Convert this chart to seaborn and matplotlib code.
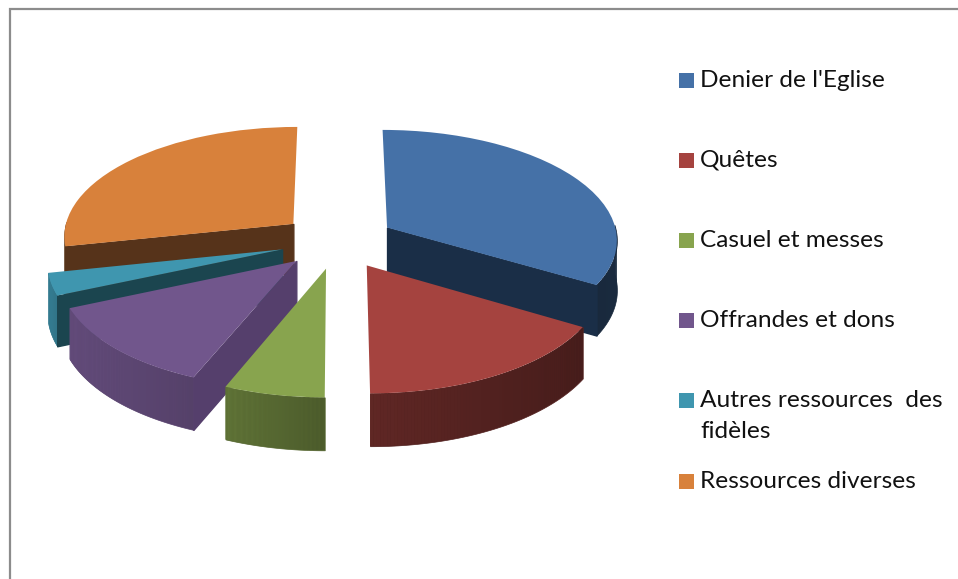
#!/usr/bin/env python
import numpy as np
import matplotlib
matplotlib.use("Agg")
import matplotlib.pyplot as plt
import seaborn as sns
from matplotlib.collections import PolyCollection
from matplotlib.colors import to_rgb
from matplotlib.patches import Rectangle
from matplotlib.transforms import Transform

# -----------------------------
# Data
# -----------------------------
labels = [
    "Denier de l'Eglise",
    "Quêtes",
    "Casuel et messes",
    "Offrandes et dons",
    "Autres ressources  des\nfidèles",
    "Ressources diverses",
]
shares = [33.5, 16.5, 6.2, 12.3, 3.2, 28.3]

colors = ["#4571A7", "#A5433F", "#88A44E", "#71568C", "#3F96AF", "#D8813B"]
cut_colors = ["#1A2E47", "#451C19", "#4C5C2A", "#553F6C", "#1B454F", "#56331A"]
wall_shades = [(0.36, 0.38), (0.58, 0.42), (0.71, 0.55), (0.88, 0.75), (0.85, 0.78), (0.40, 0.40)]
draw_order = [5, 0, 4, 3, 2, 1]

# -----------------------------
# Style
# -----------------------------
sns.set_theme(style="white")
plt.rcParams["font.family"] = ["Lato", "DejaVu Sans"]

CX, CY, R = 337.5, 241, 231
SQUASH, PERSP, DEPTH = 0.476, 0.10, 49.5


def project(x, y, z=0.0):
    s = 1 / (1 + PERSP * y)
    return CX + R * x * s, CY - R * SQUASH * y * s + DEPTH * z * s ** 0.5


class TopFace(Transform):
    input_dims = 2
    output_dims = 2

    def transform_non_affine(self, values):
        values = np.asarray(values)
        return np.column_stack(project(values[:, 0], values[:, 1]))


fig = plt.figure(figsize=(9.58, 5.79), dpi=100, facecolor="white")
ax = fig.add_axes([0, 0, 1, 1])

# -----------------------------
# Exploded pie, top faces
# -----------------------------
wedges, _ = ax.pie(
    shares,
    colors=colors,
    startangle=90,
    counterclock=False,
    explode=[0.25] * len(shares),
    wedgeprops={"linewidth": 0},
)
ax.set_aspect("auto")
ax.set_xlim(0, 958)
ax.set_ylim(579, 0)
ax.axis("off")


def wall_quad(x0, y0, x1, y1):
    return [project(x0, y0), project(x1, y1), project(x1, y1, 1), project(x0, y0, 1)]


# -----------------------------
# Side walls, back to front
# -----------------------------
for rank, i in enumerate(draw_order):
    w = wedges[i]
    cx, cy = w.center
    t1, t2 = w.theta1, w.theta2
    base = np.array(to_rgb(colors[i]))

    # outer rim, front half only, shaded left to right
    ts = np.radians(np.linspace(t1, t2, 80))
    ts = ts[np.sin(ts) < 0.03]
    if len(ts) > 1:
        xs = cx + w.r * np.cos(ts)
        ys = cy + w.r * np.sin(ts)
        light, dark = wall_shades[i]
        lo, hi = xs.min(), xs.max()
        outline = [project(a, b) for a, b in zip(xs, ys)] + \
                  [project(a, b, 1) for a, b in zip(xs[::-1], ys[::-1])]
        under = base * (light + dark) / 2
        ax.add_collection(PolyCollection([outline], facecolors=[under], edgecolors=[under],
                                         linewidths=0.5, zorder=2 + rank))
        quads, cols = [], []
        for j in range(len(ts) - 1):
            quads.append(wall_quad(xs[j], ys[j], xs[j + 1], ys[j + 1]))
            f = (0.5 * (xs[j] + xs[j + 1]) - lo) / (hi - lo)
            cols.append(base * (light + (dark - light) * f))
        ax.add_collection(PolyCollection(quads, facecolors=cols, linewidths=0, zorder=2.1 + rank))

    # radial cut faces that look towards the viewer
    for t, normal in ((t1, t1 - 90), (t2, t2 + 90)):
        if np.sin(np.radians(normal)) < -1e-6:
            ex = cx + w.r * np.cos(np.radians(t))
            ey = cy + w.r * np.sin(np.radians(t))
            ax.add_collection(PolyCollection([wall_quad(cx, cy, ex, ey)],
                                             facecolors=cut_colors[i], edgecolors=cut_colors[i],
                                             linewidths=1.0, zorder=2.2 + rank))

    w.set_transform(TopFace() + ax.transData)
    w.set_zorder(2.5 + rank)

# -----------------------------
# Legend, placed by hand
# -----------------------------
legend_y = [80, 160, 240, 320, 400, 481]
for i, (label, y) in enumerate(zip(labels, legend_y)):
    ax.add_patch(Rectangle((679, y - 7), 15, 15, facecolor=colors[i], edgecolor="none", zorder=20))
    ax.text(700, y - 10, label, fontsize=17.6, color="#111111", va="top", ha="left",
            linespacing=1.58, zorder=20)

# -----------------------------
# Chart frame
# -----------------------------
ax.plot([10.5, 10.5, 958], [579, 9, 9], color="#8C8C8C", linewidth=1.6, zorder=30,
        solid_joinstyle="miter")

fig.savefig("out.png", dpi=100)
